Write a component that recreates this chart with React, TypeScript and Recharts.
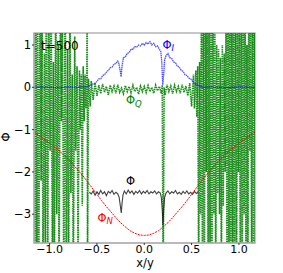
import React from 'react';
import { LineChart, Line, XAxis, YAxis, ReferenceArea } from 'recharts';

// x positions / values
const xTicks = [-1, -0.5, 0, 0.5, 1];
const yTicks = [-3, -2, -1, 0, 1];
const xDomain: [number, number] = [-1.165, 1.17];
const yDomain: [number, number] = [-3.68, 1.284];

// Phi_Q (green), left oscillating region
const qLeftX = [-1.165, -1.155, -1.145, -1.135, -1.125, -1.115, -1.1, -1.09, -1.08, -1.07, -1.055, -1.045, -1.035, -1.02, -1.01, -0.995, -0.985, -0.97, -0.96, -0.95, -0.935, -0.925, -0.91, -0.9, -0.885, -0.875, -0.865, -0.85, -0.835, -0.825, -0.81, -0.8, -0.785, -0.775, -0.76, -0.75, -0.735, -0.725, -0.71, -0.7, -0.685, -0.675, -0.665, -0.655, -0.645, -0.635, -0.625, -0.615, -0.607, -0.603, -0.6];
const qLeftY = [2, -5, 3, -4, 1.5, -5, 3, -2.2, 2.5, -5, 0.8, -4, 3, -5, 2, -1.5, 3, -5, 0.6, -5, 3, -3, 1.0, -5, 3, -0.8, 2.0, -5, 3, -5, 0.9, -5, 2.5, -2.5, 0.3, -5, 1.2, -1.5, 0.5, -4, 0.4, -1.0, 0.3, -2.8, 0.5, -0.8, 0.3, -0.5, 0.2, 3, -5];
// Phi_Q central noisy band
const qMidX = [-0.59, -0.57, -0.56, -0.54, -0.52, -0.5, -0.48, -0.46, -0.44, -0.42, -0.4, -0.38, -0.36, -0.34, -0.32, -0.3, -0.28, -0.26, -0.24, -0.22, -0.2, -0.18, -0.16, -0.14, -0.12, -0.1, -0.08, -0.06, -0.04, -0.02, 0, 0.02, 0.04, 0.06, 0.08, 0.1, 0.12, 0.14, 0.16, 0.18, 0.19, 0.2, 0.21, 0.22, 0.24, 0.26, 0.28, 0.3, 0.32, 0.34, 0.36, 0.38, 0.4, 0.42, 0.44, 0.46, 0.48, 0.5];
const qMidY = [0.2, -0.45, 0.15, -0.3, 0.1, -0.2, 0.05, -0.15, 0.08, -0.12, 0.02, -0.18, 0.05, -0.1, 0.03, -0.14, 0.06, -0.12, -0.02, -0.15, 0.04, -0.1, 0.02, -0.13, 0.05, -0.1, 0.0, -0.16, 0.03, -0.1, 0.02, -0.12, 0.04, -0.1, 0.0, -0.14, 0.05, -0.08, 0.02, -0.15, 0.05, -5, 0.0, -0.18, 0.06, -0.1, 0.03, -0.15, 0.05, -0.1, 0.02, -0.14, 0.06, -0.12, 0.03, -0.2, 0.1, -0.45];
// Phi_Q right oscillating region
const qRightX = [0.52, 0.53, 0.545, 0.555, 0.565, 0.575, 0.585, 0.595, 0.605, 0.615, 0.625, 0.635, 0.645, 0.655, 0.665, 0.675, 0.685, 0.695, 0.705, 0.715, 0.725, 0.735, 0.745, 0.755, 0.765, 0.775, 0.785, 0.795, 0.805, 0.815, 0.825, 0.835, 0.845, 0.855, 0.865, 0.875, 0.885, 0.895, 0.905, 0.915, 0.925, 0.935, 0.945, 0.955, 0.965, 0.975, 0.985, 0.995, 1.005, 1.015, 1.025, 1.035, 1.045, 1.055, 1.065, 1.075, 1.085, 1.095, 1.105, 1.115, 1.125, 1.135, 1.145, 1.155, 1.165, 1.175];
const qRightY = [0.3, -0.5, 0.4, -0.7, 0.5, -5, 0.6, -3, 3, -5, 2, -5, 3, -2, 3, -5, 2.5, -4, 1.5, -5, 3, -3, 2, -5, 1.0, -2.5, 0.9, -3, 0.7, -5, 1.0, -2.8, 0.8, -2, 2, -5, 3, -5, 3, -5, 2, -4, 3, -5, 3, -5, 1.5, -2, 2, -5, 3, -5, 3, -3, 3, -5, 1.0, -5, 3, -1.5, 2, -5, 3, -5, 2, -4];

// Phi_I (blue)
const iX = [-1.165, -1.1, -1.0, -0.9, -0.8, -0.7, -0.62, -0.6, -0.56, -0.52, -0.5, -0.48, -0.46, -0.44, -0.42, -0.4, -0.38, -0.36, -0.34, -0.32, -0.3, -0.28, -0.27, -0.255, -0.245, -0.235, -0.22, -0.2, -0.18, -0.16, -0.14, -0.12, -0.1, -0.08, -0.06, -0.04, -0.02, 0, 0.02, 0.04, 0.06, 0.08, 0.1, 0.12, 0.14, 0.16, 0.175, 0.185, 0.195, 0.205, 0.215, 0.23, 0.25, 0.27, 0.29, 0.31, 0.33, 0.35, 0.37, 0.39, 0.41, 0.43, 0.45, 0.47, 0.49, 0.51, 0.53, 0.55, 0.57, 0.6, 0.62, 0.7, 0.8, 0.9, 1.0, 1.1, 1.17];
const iY = [0.0, 0.01, 0.0, -0.01, 0.01, 0.0, 0.01, 0.02, 0.06, 0.1, 0.14, 0.2, 0.2, 0.28, 0.3, 0.36, 0.4, 0.46, 0.48, 0.55, 0.56, 0.62, 0.58, 0.4, 0.25, 0.5, 0.7, 0.72, 0.8, 0.82, 0.9, 0.9, 0.96, 0.95, 1.0, 0.98, 1.04, 1.0, 1.06, 1.02, 1.08, 1.0, 1.04, 0.96, 0.98, 0.9, 0.85, 0.6, 0.05, 0.3, 0.65, 0.75, 0.8, 0.7, 0.68, 0.6, 0.58, 0.5, 0.48, 0.4, 0.38, 0.3, 0.28, 0.22, 0.2, 0.14, 0.1, 0.06, 0.04, 0.02, 0.0, 0.01, 0.0, -0.01, 0.01, 0.0, 0.0];

// Phi (black)
const pX = [-0.58, -0.56, -0.54, -0.52, -0.5, -0.48, -0.46, -0.44, -0.42, -0.4, -0.38, -0.36, -0.34, -0.32, -0.3, -0.28, -0.265, -0.25, -0.243, -0.235, -0.225, -0.21, -0.19, -0.17, -0.15, -0.13, -0.11, -0.09, -0.07, -0.05, -0.03, -0.01, 0.01, 0.03, 0.05, 0.07, 0.09, 0.11, 0.13, 0.15, 0.17, 0.18, 0.19, 0.197, 0.205, 0.215, 0.23, 0.25, 0.27, 0.29, 0.31, 0.33, 0.35, 0.37, 0.39, 0.41, 0.43, 0.45, 0.47, 0.49, 0.51, 0.53, 0.55, 0.57];
const pY = [-2.48, -2.52, -2.45, -2.55, -2.47, -2.53, -2.44, -2.52, -2.47, -2.56, -2.46, -2.5, -2.44, -2.53, -2.48, -2.52, -2.6, -2.85, -2.97, -2.75, -2.55, -2.45, -2.52, -2.43, -2.5, -2.45, -2.53, -2.46, -2.5, -2.44, -2.52, -2.46, -2.5, -2.44, -2.52, -2.47, -2.5, -2.45, -2.52, -2.47, -2.5, -2.6, -2.9, -3.26, -2.9, -2.6, -2.5, -2.45, -2.52, -2.47, -2.5, -2.44, -2.52, -2.48, -2.53, -2.46, -2.51, -2.45, -2.52, -2.48, -2.53, -2.46, -2.51, -2.47];

// Phi_N (red)
const nX = [-1.165, -1.1, -1.05, -1.0, -0.95, -0.9, -0.85, -0.8, -0.75, -0.7, -0.65, -0.6, -0.55, -0.5, -0.45, -0.4, -0.35, -0.3, -0.25, -0.2, -0.15, -0.1, -0.05, 0, 0.05, 0.1, 0.15, 0.2, 0.25, 0.3, 0.35, 0.4, 0.45, 0.5, 0.55, 0.6, 0.65, 0.7, 0.75, 0.8, 0.85, 0.9, 0.95, 1.0, 1.05, 1.1, 1.17];
const nY = [-1.06, -1.16, -1.24, -1.32, -1.41, -1.5, -1.6, -1.71, -1.83, -1.96, -2.09, -2.23, -2.38, -2.53, -2.68, -2.82, -2.95, -3.08, -3.2, -3.3, -3.39, -3.45, -3.49, -3.5, -3.49, -3.45, -3.39, -3.3, -3.2, -3.08, -2.95, -2.82, -2.68, -2.53, -2.38, -2.23, -2.09, -1.96, -1.83, -1.71, -1.6, -1.5, -1.41, -1.32, -1.24, -1.16, -1.05];

const zip = (xs: number[], ys: number[]) => xs.map((x, i) => ({ x, y: ys[i] }));
const qData = [...zip(qLeftX, qLeftY), ...zip(qMidX, qMidY), ...zip(qRightX, qRightY)];
const iData = zip(iX, iY);
const pData = zip(pX, pY);
const nData = zip(nX, nY);

const minus = (s: string) => s.replace('-', '\u2212');
const fmtX = (v: number) => minus(v.toFixed(1));
const fmtY = (v: number) => minus(String(v));

const FONT = 'DejaVu Sans, sans-serif';
const AXIS = '#b5b5b5';

export default function App() {
  return (
    <div style={{ position: 'absolute', left: 0, top: 0, width: 283, height: 273, background: '#fff' }}>
      <LineChart width={283} height={273} margin={{ top: 33, right: 28, bottom: 0, left: 0 }}>
        <XAxis
          dataKey="x"
          type="number"
          domain={xDomain}
          allowDataOverflow
          ticks={xTicks}
          tickFormatter={fmtX}
          height={30}
          tickSize={2}
          tickMargin={0}
          axisLine={{ stroke: AXIS, strokeWidth: 1.5 }}
          tickLine={{ stroke: '#333' }}
          tick={{ fill: '#000', fontSize: 11, fontFamily: FONT }}
          interval={0}
        />
        <YAxis
          type="number"
          domain={yDomain}
          allowDataOverflow
          ticks={yTicks}
          tickFormatter={fmtY}
          width={34}
          tickSize={2}
          tickMargin={1}
          axisLine={{ stroke: AXIS, strokeWidth: 1.5 }}
          tickLine={{ stroke: '#333' }}
          tick={{ fill: '#000', fontSize: 11.5, fontFamily: FONT }}
          interval={0}
        />
        <ReferenceArea x1={xDomain[0]} x2={xDomain[1]} y1={yDomain[0]} y2={yDomain[1]} fill="none" stroke={AXIS} strokeWidth={1.5} />
        <Line data={qData} dataKey="y" type="linear" stroke="#008000" strokeWidth={1.6} strokeOpacity={0.9} strokeDasharray="1.5 0.8" dot={false} isAnimationActive={false} />
        <Line data={iData} dataKey="y" type="linear" stroke="#0000ff" strokeWidth={1.3} strokeOpacity={0.7} strokeDasharray="1.5 0.6" dot={false} isAnimationActive={false} />
        <Line data={pData} dataKey="y" type="linear" stroke="#111" strokeWidth={1.1} strokeOpacity={0.8} dot={false} isAnimationActive={false} />
        <Line data={nData} dataKey="y" type="linear" stroke="#ff0000" strokeWidth={1.0} strokeDasharray="2 1" dot={false} isAnimationActive={false} />
      </LineChart>
      <svg width={283} height={273} style={{ position: 'absolute', left: 0, top: 0, pointerEvents: 'none' }} fontFamily={FONT}>
        <text x={41} y={49.5} fontSize={12} fill="#000">t=500</text>
        <text x={162.5} y={48.5} fontSize={11.5} fill="#0000ff">Φ<tspan fontSize={8.5} fontStyle="italic" dy={2}>I</tspan></text>
        <text x={126} y={104} fontSize={11.5} fill="#008000">Φ<tspan fontSize={8.5} fontStyle="italic" dy={2.5}>Q</tspan></text>
        <text x={126} y={184.8} fontSize={11.5} fill="#000">Φ</text>
        <text x={97.5} y={222.3} fontSize={11.5} fill="#ff0000">Φ<tspan fontSize={8.5} fontStyle="italic" dy={2}>N</tspan></text>
        <text x={145} y={267} fontSize={11.5} fill="#000" textAnchor="middle">x/y</text>
        <text x={6} y={137} fontSize={12} fill="#000" textAnchor="middle" dominantBaseline="central" transform="rotate(-90 6 137)">Φ</text>
      </svg>
    </div>
  );
}
